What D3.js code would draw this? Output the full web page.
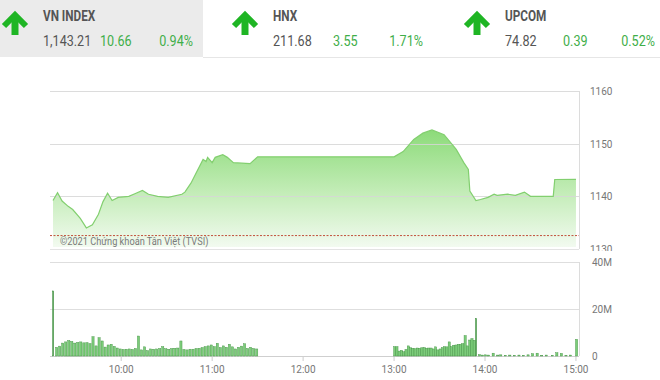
<!DOCTYPE html>
<html><head><meta charset="utf-8">
<script src="https://cdn.jsdelivr.net/npm/d3@7"></script>
<style>body{margin:0;background:#fff}svg{display:block}</style>
</head><body>
<svg id="c" width="660" height="380"></svg>
<script>
// ---- header data ----
const indexNames = ["VN INDEX", "HNX", "UPCOM"];
const indexValues = ["1,143.21", "211.68", "74.82"];
const indexChanges = ["10.66", "3.55", "0.39"];
const indexPcts = ["0.94%", "1.71%", "0.52%"];

// ---- price series (time, value) ----
const priceTimes = ["09:15","09:18","09:21","09:25","09:28","09:33","09:37","09:41","09:45","09:48","09:51","09:54","09:58","10:05","10:09","10:14","10:18","10:24","10:31","10:40","10:42","10:46","10:49","10:54","10:56","10:57","11:00","11:02","11:07","11:10","11:14","11:25","11:30","13:00","13:06","13:13","13:19","13:25","13:33","13:41","13:46","13:49","13:50","13:54","13:57","14:02","14:06","14:08","14:15","14:20","14:26","14:30","14:45","14:46","15:00"];
const priceValues = [1139.2,1140.7,1139.1,1138.1,1137.5,1135.8,1134.0,1134.6,1136.6,1139.0,1140.6,1139.2,1139.8,1140.0,1140.5,1141.1,1140.4,1140.0,1139.8,1140.4,1140.8,1142.5,1144.2,1147.0,1146.6,1147.4,1146.4,1147.4,1147.9,1147.4,1146.4,1146.2,1147.5,1147.5,1148.5,1150.8,1152.0,1152.6,1151.7,1148.9,1146.4,1145.1,1141.0,1139.2,1139.4,1139.8,1140.4,1140.2,1140.4,1140.2,1140.8,1140.0,1140.0,1143.2,1143.21];
const refPrice = 1132.55;
const priceTicks = [1130, 1140, 1150, 1160];

// ---- volume series (millions) ----
const morningStart = "09:15", morningStep = 2;
const morningVol = [27.7,3.7,4.2,5.5,6.0,6.6,6.2,5.5,5.8,6.0,5.6,5.7,5.3,8.2,4.3,7.8,6.4,3.8,4.7,5.0,4.1,3.4,3.0,2.8,2.9,3.0,2.8,3.2,8.5,2.6,3.9,2.3,3.0,2.9,3.0,3.2,4.0,3.1,2.9,3.2,3.3,3.4,6.4,2.8,2.6,2.9,2.9,3.2,3.3,3.6,4.0,4.3,4.7,4.0,5.4,3.6,4.3,3.7,5.0,3.9,3.0,3.7,4.2,5.2,3.2,3.7,3.2,3.0];
const afternoonStart = "13:00", afternoonStep = 1.5;
const afternoonVol = [4.0,4.0,2.1,2.4,1.8,2.8,4.3,3.5,3.3,3.1,3.4,3.3,3.5,3.6,3.3,3.4,3.4,3.0,3.9,2.6,3.0,3.6,4.0,3.9,6.0,4.0,4.6,4.7,5.0,5.0,5.3,8.7,4.3,6.8,7.4,6.7];
const lateTimes = ["13:54","13:56","13:58","14:00","14:02","14:05","14:08","14:10","14:13","14:16","14:19","14:22","14:25","14:28","14:31","14:34","14:37","14:40","14:44","14:47","14:50","14:53","14:56","15:00"];
const lateVol = [16.0,0.6,0.4,0.5,0.4,1.2,0.4,0.5,0.3,0.4,0.3,0.4,0.3,0.5,1.0,1.2,0.3,0.4,0.3,1.4,1.1,0.3,0.4,7.1];
const volTicks = [0, 20, 40];
const volTickLabels = ["0", "20M", "40M"];
const timeTicks = ["10:00","11:00","12:00","13:00","14:00","15:00"];

// ---- helpers ----
const toMin = s => { const [h,m] = s.split(":").map(Number); return h*60+m; };
const svg = d3.select("#c");
const green = "#1fb524", txtGreen = "#3fae49", txtGray = "#555";
const fontUI = "Roboto, 'Liberation Sans', sans-serif";
const fontAx = "Roboto, 'Liberation Sans', sans-serif";
const SX = 0.84; // condensed look
function ctext(sel, px, py, anchor) {
  return sel.append("text")
    .attr("transform", `translate(${px},${py}) scale(${SX},1)`)
    .attr("text-anchor", anchor || "start")
    .attr("font-family", fontUI);
}

// ---- header ----
svg.append("rect").attr("x",0).attr("y",0).attr("width",203).attr("height",57).attr("fill","#ebebeb");
svg.append("line").attr("x1",203).attr("x2",660).attr("y1",57.5).attr("y2",57.5).attr("stroke","#e6e6e6");
const panelX = [0, 230, 462];
const chgX = [100, 103, 101];
indexNames.forEach((name, i) => {
  const g = svg.append("g").attr("transform", `translate(${panelX[i]},0)`);
  g.append("polyline").attr("points","4,26 15,15 26,26").attr("fill","none").attr("stroke",green).attr("stroke-width",6);
  g.append("line").attr("x1",15).attr("x2",15).attr("y1",17).attr("y2",35).attr("stroke",green).attr("stroke-width",7);
  ctext(g, 43, 21).text(name).attr("font-weight","bold").attr("font-size",14).attr("fill",txtGray);
  ctext(g, 43, 46).text(indexValues[i]).attr("font-size",15).attr("fill",txtGray);
  ctext(g, chgX[i], 46).text(indexChanges[i]).attr("font-size",15).attr("fill",txtGreen);
  ctext(g, 193, 46, "end").text(indexPcts[i]).attr("font-size",15).attr("fill",txtGreen);
});

// ---- scales ----
const x = d3.scaleLinear().domain([toMin("09:15"), toMin("15:02")]).range([53, 579]);
const yP = d3.scaleLinear().domain([1130, 1160]).range([249, 91]);
const yV = d3.scaleLinear().domain([0, 40]).range([356, 262]);

// ---- price panel ----
const defs = svg.append("defs");
defs.append("clipPath").attr("id","pclip").append("rect").attr("x",0).attr("y",60).attr("width",660).attr("height",191);
const grad = defs.append("linearGradient").attr("id","g1").attr("gradientUnits","userSpaceOnUse")
  .attr("x1",0).attr("x2",0).attr("y1",120).attr("y2",249);
grad.append("stop").attr("offset","0").attr("stop-color","#83d86f");
grad.append("stop").attr("offset","0.55").attr("stop-color","#c2ecb6");
grad.append("stop").attr("offset","1").attr("stop-color","#f4fbf2");

const pdata = priceTimes.map((t,i)=>({t:toMin(t), v:priceValues[i]}));
svg.append("path").datum(pdata)
  .attr("d", d3.area().x(d=>x(d.t)).y0(yP(1130)-2).y1(d=>yP(d.v)))
  .attr("fill","url(#g1)");
// grid
svg.append("g").selectAll("line").data([1140,1150,1160]).join("line")
  .attr("x1",50).attr("x2",579).attr("y1",d=>Math.round(yP(d))+0.5).attr("y2",d=>Math.round(yP(d))+0.5)
  .attr("stroke","#d6d6d6").attr("stroke-opacity",0.85);
svg.append("line").attr("x1",50).attr("x2",579).attr("y1",249.5).attr("y2",249.5).attr("stroke","#e3e3e3");
svg.append("line").attr("x1",579.5).attr("x2",579.5).attr("y1",91).attr("y2",249).attr("stroke","#dcdcdc");
svg.append("path").datum(pdata)
  .attr("d", d3.line().x(d=>x(d.t)).y(d=>yP(d.v)))
  .attr("fill","none").attr("stroke","#82cf6f").attr("stroke-width",1.2);
svg.append("line").attr("x1",50).attr("x2",579).attr("y1",yP(refPrice)).attr("y2",yP(refPrice))
  .attr("stroke","#c0503a").attr("stroke-width",1).attr("stroke-dasharray","2,1.5");
ctext(svg, 60, 245).text("©2021 Chứng khoán Tân Việt (TVSI)")
  .attr("font-size",11).attr("fill","#7a7a7a");
svg.append("g").attr("clip-path","url(#pclip)").selectAll("text").data(priceTicks).join("text")
  .attr("x",590).attr("y",d=>yP(d)+4).text(d=>d)
  .attr("font-family",fontAx).attr("font-size",10).attr("fill","#777");

// ---- volume panel ----
svg.append("g").selectAll("line").data(volTicks.slice(1)).join("line")
  .attr("x1",50).attr("x2",579).attr("y1",d=>Math.round(yV(d))+0.5).attr("y2",d=>Math.round(yV(d))+0.5)
  .attr("stroke","#dedede");
svg.append("line").attr("x1",50).attr("x2",579).attr("y1",356.5).attr("y2",356.5).attr("stroke","#cfcfcf");
svg.append("line").attr("x1",579.5).attr("x2",579.5).attr("y1",262).attr("y2",356).attr("stroke","#dcdcdc");

const vdata = [];
morningVol.forEach((v,i)=>vdata.push({t:toMin(morningStart)+i*morningStep, v}));
afternoonVol.forEach((v,i)=>vdata.push({t:toMin(afternoonStart)+i*afternoonStep, v}));
lateVol.forEach((v,i)=>vdata.push({t:toMin(lateTimes[i]), v}));
svg.append("g").selectAll("rect").data(vdata).join("rect")
  .attr("x",d=>x(d.t)-0.5).attr("width",d=>d.v>10?1.2:2.2)
  .attr("y",d=>yV(d.v)).attr("height",d=>yV(0)-yV(d.v))
  .attr("fill",d=>d.v>10?"#4b9a4b":"#7ccc7a").attr("stroke","#3e8f3e").attr("stroke-width",0.4);

svg.append("g").selectAll("text").data(volTicks).join("text")
  .attr("x",592).attr("y",d=>yV(d)+4).text((d,i)=>volTickLabels[i])
  .attr("font-family",fontAx).attr("font-size",10).attr("fill","#777");

// time axis
const tg = svg.append("g").selectAll("g").data(timeTicks).join("g")
  .attr("transform",d=>`translate(${x(toMin(d))},0)`);
tg.append("line").attr("y1",357).attr("y2",361).attr("stroke","#ccc");
tg.append("text").attr("y",373).attr("text-anchor","middle").text(d=>d)
  .attr("font-family",fontAx).attr("font-size",10).attr("fill","#777");
</script>
</body></html>
